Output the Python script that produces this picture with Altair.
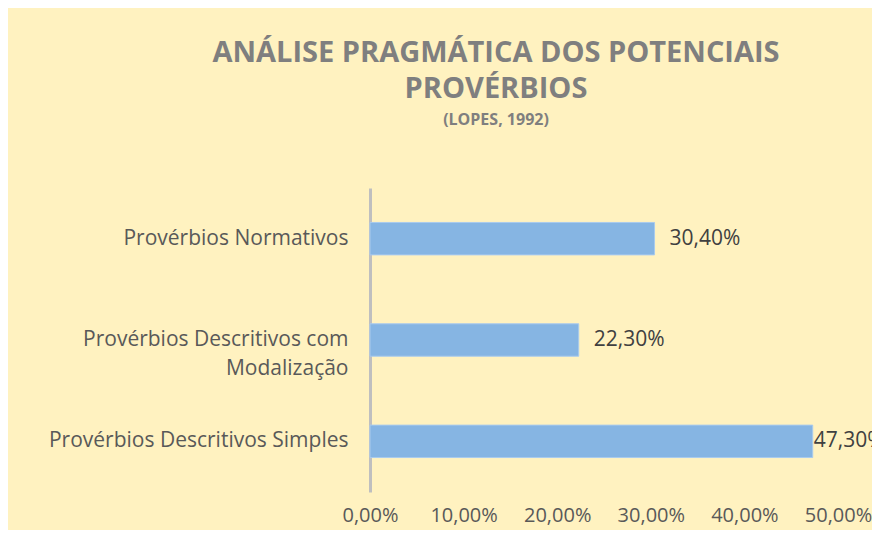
import altair as alt
import pandas as pd

categories = ["Provérbios Normativos", "Provérbios Descritivos com|Modalização", "Provérbios Descritivos Simples"]
values = [30.4, 22.3, 47.3]
x_ticks = [0, 10, 20, 30, 40, 50]

df = pd.DataFrame({"cat": categories, "v": values})

FONT = "Open Sans"
BG = "#FFF2C0"

base = alt.Chart(df).encode(
    y=alt.Y("cat:N", sort=categories,
            scale=alt.Scale(paddingInner=0.68, paddingOuter=0.34),
            axis=alt.Axis(title=None, labelExpr="split(datum.label, '|')",
                          labelFontSize=21, labelColor="#595959", labelFont=FONT,
                          labelPadding=22, labelLimit=400, ticks=False, domain=True,
                          domainColor="#BFBFBF", domainWidth=3, grid=False,
                          labelLineHeight=29)),
)

bars = base.mark_bar(color="#86B5E3", stroke="#A9CBEE", strokeWidth=1).encode(
    x=alt.X("v:Q", scale=alt.Scale(domain=[0, 50], nice=False),
            axis=alt.Axis(title=None, values=x_ticks,
                          labelExpr="replace(format(datum.value, '.2f'), '.', ',') + '%'",
                          labelFontSize=20, labelColor="#595959", labelFont=FONT,
                          labelPadding=13, labelOverlap=False, labelFlush=False,
                          ticks=False, domain=False, grid=False)),
)

lbl_base = base.transform_calculate(
    lbl="replace(format(datum.v, '.2f'), '.', ',') + '%'"
).encode(x="v:Q", text="lbl:N")

labels_in = lbl_base.transform_filter("datum.v <= 45").mark_text(
    align="left", dx=15, fontSize=21, color="#404040", font=FONT)
labels_edge = lbl_base.transform_filter("datum.v > 45").mark_text(
    align="left", dx=1, fontSize=21, color="#404040", font=FONT)

chart = alt.layer(bars, labels_in, labels_edge).properties(
    width=468, height=304,
    background=BG,
    autosize=alt.AutoSizeParams(type="none"),
    padding={"left": 362, "right": 34, "top": 180, "bottom": 38},
    title=alt.TitleParams(
        text=["ANÁLISE PRAGMÁTICA DOS POTENCIAIS", "PROVÉRBIOS"],
        subtitle="(LOPES, 1992)",
        font=FONT, fontSize=29, fontWeight="bold", color="#7F7F7F",
        lineHeight=36, subtitleFont=FONT, subtitleFontSize=16, subtitleFontWeight="bold",
        subtitleColor="#7F7F7F", subtitlePadding=8,
        anchor="middle", frame="group", dx=-108, offset=60, limit=800,
    ),
).configure(font=FONT).configure_view(strokeWidth=0, stroke="transparent")

chart.save("out.html", embed_options={"renderer": "svg", "actions": False})
